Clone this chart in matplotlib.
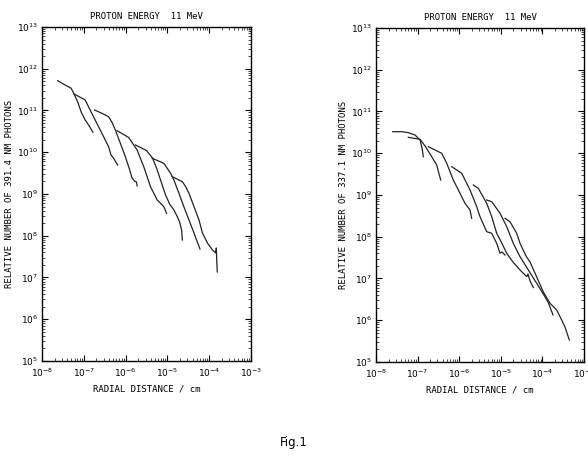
import numpy as np
import matplotlib
matplotlib.use("Agg")
import matplotlib.pyplot as plt
from matplotlib.ticker import LogLocator, FixedLocator

# ---------------- data (log10 values) ----------------
# Left panel: 391.4 nm photons
L1_logr = [-7.623, -7.447, -7.303, -7.231, -7.135, -7.063, -6.966, -6.870, -6.781]
L1_logn = [11.714, 11.611, 11.532, 11.395, 11.180, 10.964, 10.772, 10.629, 10.478]
L2_logr = [-7.231, -6.966, -6.887, -6.767, -6.647, -6.486, -6.406, -6.349, -6.286, -6.190]
L2_logn = [11.395, 11.251, 11.091, 10.852, 10.612, 10.293, 10.133, 9.934, 9.855, 9.695]
L3_logr = [-6.743, -6.582, -6.406, -6.317, -6.245, -6.125, -6.005, -5.901, -5.844, -5.788, -5.740, -5.724]
L3_logn = [11.012, 10.940, 10.852, 10.701, 10.533, 10.214, 9.893, 9.575, 9.383, 9.311, 9.287, 9.192]
L4_logr = [-6.204, -5.925, -5.805, -5.724, -5.565, -5.404, -5.243, -5.084, -5.019]
L4_logn = [10.516, 10.353, 10.174, 10.054, 9.654, 9.175, 8.856, 8.696, 8.538]
L5_logr = [-5.764, -5.500, -5.356, -5.260, -5.163, -5.043, -4.947, -4.844, -4.762, -4.707, -4.659, -4.642]
L5_logn = [10.174, 10.042, 9.862, 9.623, 9.335, 8.976, 8.760, 8.617, 8.456, 8.329, 8.138, 7.898]
L6_logr = [-5.363, -5.084, -4.923, -4.844, -4.723, -4.603, -4.483, -4.363, -4.274, -4.219]
L6_logn = [9.855, 9.735, 9.496, 9.335, 9.017, 8.689, 8.377, 8.066, 7.826, 7.683]
L7_logr = [-4.882, -4.642, -4.562, -4.483, -4.363, -4.243, -4.161, -4.041, -3.921, -3.841, -3.829, -3.817, -3.805]
L7_logn = [9.414, 9.295, 9.175, 9.017, 8.696, 8.377, 8.066, 7.826, 7.659, 7.587, 7.707, 7.371, 7.132]

# Right panel: 337.1 nm photons
R1_logr = [-7.599, -7.375, -7.224, -7.063, -6.942, -6.894, -6.863]
R1_logn = [10.516, 10.516, 10.492, 10.437, 10.317, 10.126, 9.917]
R2_logr = [-7.224, -7.063, -6.942, -6.822, -6.661, -6.541, -6.498, -6.445]
R2_logn = [10.382, 10.353, 10.334, 10.174, 9.917, 9.719, 9.551, 9.359]
R3_logr = [-6.743, -6.421, -6.300, -6.142, -5.981, -5.861, -5.740, -5.700]
R3_logn = [10.157, 9.999, 9.759, 9.359, 9.041, 8.801, 8.641, 8.442]
R4_logr = [-6.180, -5.940, -5.740, -5.579, -5.500, -5.339, -5.219, -5.099, -5.019, -4.971, -4.899]
R4_logn = [9.678, 9.520, 9.120, 8.720, 8.480, 8.121, 8.083, 7.843, 7.604, 7.635, 7.563]
R5_logr = [-5.661, -5.541, -5.339, -5.219, -5.099, -4.978, -4.858, -4.707, -4.538, -4.377, -4.346, -4.298, -4.219]
R5_logn = [9.240, 9.160, 8.801, 8.480, 8.083, 7.850, 7.604, 7.395, 7.204, 7.043, 7.108, 6.940, 6.784]
R6_logr = [-5.339, -5.219, -5.019, -4.858, -4.700, -4.538, -4.339, -4.137, -3.978, -3.865, -3.817, -3.745]
R6_logn = [8.880, 8.840, 8.562, 8.241, 7.843, 7.522, 7.204, 6.885, 6.629, 6.437, 6.317, 6.126]
R7_logr = [-4.899, -4.779, -4.618, -4.538, -4.394, -4.298, -4.137, -3.978, -3.817, -3.656, -3.536, -3.457, -3.409, -3.353]
R7_logn = [8.442, 8.360, 8.083, 7.843, 7.539, 7.395, 7.036, 6.677, 6.406, 6.245, 6.006, 5.838, 5.695, 5.527]

left_curves = [(L1_logr, L1_logn), (L2_logr, L2_logn), (L3_logr, L3_logn), (L4_logr, L4_logn),
               (L5_logr, L5_logn), (L6_logr, L6_logn), (L7_logr, L7_logn)]
right_curves = [(R1_logr, R1_logn), (R2_logr, R2_logn), (R3_logr, R3_logn), (R4_logr, R4_logn),
                (R5_logr, R5_logn), (R6_logr, R6_logn), (R7_logr, R7_logn)]

title_text = "PROTON ENERGY  11 MeV"
ylabel_left = "RELATIVE NUMBER OF 391.4 NM PHOTONS"
ylabel_right = "RELATIVE NUMBER OF 337.1 NM PHOTONS"
xlabel_text = "RADIAL DISTANCE / cm"
x_exps = [-8, -7, -6, -5, -4, -3]
y_exps = [5, 6, 7, 8, 9, 10, 11, 12, 13]

# ---------------- drawing ----------------
plt.rcParams['font.family'] = ['DejaVu Sans Mono']
plt.rcParams['mathtext.fontset'] = 'dejavusans'

fig = plt.figure(figsize=(5.88, 4.58), dpi=100)
axL = fig.add_axes([0.0714, 0.2118, 0.3554, 0.7293])
axR = fig.add_axes([0.6395, 0.2096, 0.3537, 0.7293])

def style(ax, ylabel):
    ax.set_xscale('log')
    ax.set_yscale('log')
    ax.set_xlim(1e-8, 1e-3)
    ax.set_ylim(1e5, 1e13)
    ax.xaxis.set_major_locator(FixedLocator([10.0**e for e in x_exps]))
    ax.yaxis.set_major_locator(FixedLocator([10.0**e for e in y_exps]))
    ax.xaxis.set_minor_locator(LogLocator(base=10, subs=np.arange(2, 10), numticks=20))
    ax.yaxis.set_minor_locator(LogLocator(base=10, subs=np.arange(2, 10), numticks=20))
    ax.set_xticklabels([r'$10^{%d}$' % e for e in x_exps], fontsize=6.5)
    ax.set_yticklabels([r'$10^{%d}$' % e for e in y_exps], fontsize=6.5)
    ax.tick_params(which='both', direction='in', top=True, right=True, color='black')
    ax.tick_params(which='major', length=4, width=0.8)
    ax.tick_params(axis='x', which='major', pad=4)
    ax.tick_params(axis='y', which='major', pad=3)
    ax.tick_params(which='minor', length=2, width=0.5)
    for s in ax.spines.values():
        s.set_linewidth(1.0)
    ax.set_title(title_text, fontsize=6.5, pad=6)
    ax.set_xlabel(xlabel_text, fontsize=6.5, labelpad=4)
    ax.set_ylabel(ylabel, fontsize=6.5, labelpad=2)

for ax, curves, yl in [(axL, left_curves, ylabel_left), (axR, right_curves, ylabel_right)]:
    for lr, ln in curves:
        ax.plot(10.0**np.array(lr), 10.0**np.array(ln), color='#222222', lw=0.9)
    style(ax, yl)

fig.text(0.50, 0.02, "Fig.1", ha='center', va='bottom', fontsize=8.5, family='DejaVu Sans')

fig.savefig("out.png", dpi=100)
